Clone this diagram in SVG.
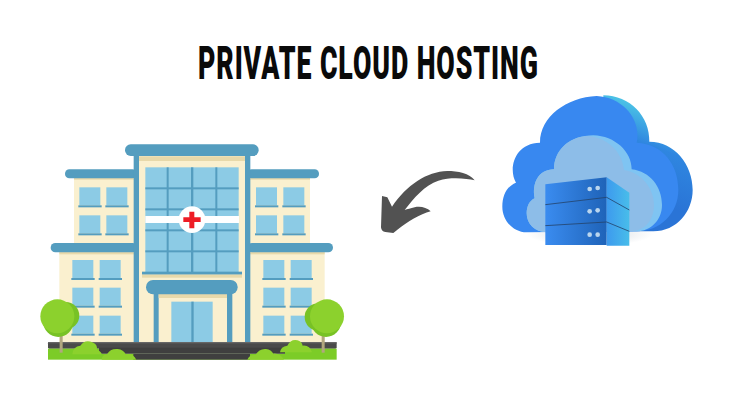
<svg xmlns="http://www.w3.org/2000/svg" width="736" height="400" viewBox="0 0 736 400">
<style>
.b{fill:#549dbf}.w{fill:#8ccbe5}.c{fill:#faf0cf}.s{fill:#e8d9aa}.g{fill:#8cd12d}.g2{fill:#78c225}.t{fill:#b1a77e}
.title{font-family:Roboto,"Liberation Sans",sans-serif;font-weight:900;font-size:46px;fill:#0a0a0a}
</style>
<defs>
<g id="win"><rect class="w" x="0" y="0" width="63" height="54"/><rect class="b" x="-3" y="54" width="70" height="6"/></g>
<linearGradient id="sv1" x1="0" x2="1" y1="0" y2="0"><stop offset="0" stop-color="#3a8cf0"/><stop offset="1" stop-color="#1f63b8"/></linearGradient>
<linearGradient id="sv2" x1="0" x2="1" y1="0" y2="0"><stop offset="0" stop-color="#3d9aee"/><stop offset="1" stop-color="#48bdea"/></linearGradient>
<linearGradient id="cl" gradientUnits="userSpaceOnUse" x1="760" y1="300" x2="850" y2="60"><stop offset="0" stop-color="#2a74d6"/><stop offset=".6" stop-color="#2f86e0"/><stop offset="1" stop-color="#4cc4e6"/></linearGradient>
<radialGradient id="sh"><stop offset="0" stop-color="#9aa9b5" stop-opacity=".45"/><stop offset="1" stop-color="#9aa9b5" stop-opacity="0"/></radialGradient>
</defs>
<g transform="translate(198,79) scale(.58,1)"><text class="title" id="title" x="0" y="0" textLength="586" lengthAdjust="spacing">PRIVATE CLOUD HOSTING</text></g>

<g id="hospital" transform="translate(40,135) scale(.33333)">
<rect class="c" x="102" y="125" width="180" height="200"/>
<rect class="c" x="630" y="125" width="180" height="200"/>
<rect class="c" x="58" y="345" width="225" height="280"/>
<rect class="c" x="630" y="345" width="224" height="280"/>
<rect class="s" x="102" y="128" width="180" height="6"/><rect class="s" x="630" y="128" width="180" height="6"/>
<rect class="s" x="58" y="350" width="225" height="8"/><rect class="s" x="630" y="350" width="224" height="8"/>
<rect class="b" x="75" y="103" width="215" height="27" rx="13"/>
<rect class="b" x="622" y="103" width="215" height="27" rx="13"/>
<rect class="b" x="32" y="324" width="260" height="28" rx="14"/>
<rect class="b" x="622" y="324" width="257" height="28" rx="14"/>
<use href="#win" x="118" y="157"/><use href="#win" x="199" y="157"/><use href="#win" x="118" y="241"/><use href="#win" x="199" y="241"/>
<use href="#win" x="648" y="157"/><use href="#win" x="730" y="157"/><use href="#win" x="648" y="241"/><use href="#win" x="730" y="241"/>
<use href="#win" x="97" y="375"/><use href="#win" x="179" y="375"/><use href="#win" x="97" y="458"/><use href="#win" x="179" y="458"/><use href="#win" x="97" y="542"/><use href="#win" x="179" y="542"/>
<use href="#win" x="670" y="375"/><use href="#win" x="752" y="375"/><use href="#win" x="670" y="458"/><use href="#win" x="752" y="458"/><use href="#win" x="670" y="542"/><use href="#win" x="752" y="542"/>
<rect class="c" x="290" y="60" width="332" height="565"/>
<rect class="s" x="297" y="64" width="318" height="14"/>
<rect class="b" x="281" y="50" width="16" height="575"/><rect class="b" x="615" y="50" width="16" height="575"/>
<rect class="b" x="255" y="28" width="401" height="35" rx="17"/>
<rect class="w" x="316" y="97" width="280" height="314"/>
<g class="b"><rect x="380" y="97" width="6" height="314"/><rect x="453" y="97" width="7" height="314"/><rect x="526" y="97" width="6" height="314"/>
<rect x="316" y="157" width="280" height="6"/><rect x="316" y="220" width="280" height="6"/><rect x="316" y="283" width="280" height="6"/><rect x="316" y="346" width="280" height="6"/>
<rect x="306" y="410" width="300" height="9"/></g>
<rect class="s" x="306" y="419" width="300" height="9"/>
<rect x="316" y="243" width="281" height="21" fill="#fff"/>
<circle cx="456" cy="254" r="40" fill="#fff"/>
<path d="M448 230h15v17h19v14h-19v19h-15v-19h-18v-14h18z" fill="#ee1c25"/>
<rect class="b" x="341" y="470" width="15" height="155"/><rect class="b" x="561" y="470" width="16" height="155"/>
<rect class="s" x="356" y="477" width="205" height="12"/>
<rect class="b" x="318" y="435" width="275" height="43" rx="21"/>
<rect class="w" x="394" y="500" width="124" height="125"/><rect class="b" x="454" y="500" width="7" height="125"/>
<rect x="24" y="621" width="866" height="20" rx="4" fill="#4a4a4a"/>
<rect x="24" y="641" width="866" height="33" fill="#7ccc27"/>
<rect x="24" y="621" width="866" height="4" fill="#666"/>
<rect x="177" y="638" width="558" height="18" fill="#3f3f3f"/>
<rect x="280" y="656" width="350" height="18" fill="#3f3f3f"/>
<rect x="177" y="654" width="558" height="2" fill="#6a6a6a"/>
<rect class="t" x="59" y="590" width="9" height="63"/><rect class="t" x="845" y="590" width="9" height="63"/>
<circle class="g2" cx="77" cy="542" r="41"/><circle class="g2" cx="55" cy="561" r="45"/><circle class="g" cx="52" cy="544" r="51"/>
<circle class="g2" cx="835" cy="546" r="41"/><circle class="g2" cx="858" cy="561" r="45"/><circle class="g" cx="861" cy="544" r="51"/>
<path class="g" d="M97 658q2-24 24-26q14-20 36-10q16 6 14 22q14 6 14 14z"/>
<path class="g" d="M185 674q0-14 16-16q10-18 32-16q18 2 24 16q22-4 32 16z"/>
<path class="g" d="M622 674q6-16 24-14q12-20 32-18q16 2 22 14q20-2 32 18z"/>
<path class="g" d="M720 652q2-18 22-20q10-20 30-16q14 4 16 16q22-2 28 20z"/>
</g>

<g id="arrow" transform="translate(370,90) scale(.33333)">
<path d="M314 271C300 250 262 243 232 243C170 245 110 285 66 350L52 322L36 318L33 412Q34 424 46 426L70 429L84 418C112 396 150 372 182 364C170 352 150 348 134 352C122 355 112 358 104 360C130 325 165 285 205 272C245 260 290 266 314 271Z" fill="#525252"/>
</g>

<g id="cloud" transform="translate(370,90) scale(.33333)">
<ellipse cx="660" cy="432" rx="190" ry="36" fill="url(#sh)"/>
<path d="M700 16C780 16 840 80 838 155C915 155 968 225 968 300C968 365 920 424 850 424L700 424V16Z" fill="url(#cl)"/>
<path d="M680 18C590 22 510 80 510 158C430 160 415 240 438 278C412 288 397 315 397 350C397 392 430 427 470 427L800 424C870 424 925 370 925 300C925 225 880 162 800 158C815 90 760 22 680 18Z" fill="#3888f0"/>
<path d="M670 136C600 136 552 180 552 238C505 238 485 280 494 325C478 332 470 350 470 370C470 402 495 427 530 427L800 424C842 424 876 390 876 345C876 290 840 245 785 238C785 185 735 138 670 136Z" fill="#7fc4f2"/>
<path d="M650 138C595 142 552 182 552 238C505 238 485 280 494 325C478 332 470 350 470 370C470 402 495 427 530 427L780 424C825 424 852 390 852 345C852 295 815 248 762 240C758 185 710 140 650 138Z" fill="#8dbde8"/>
<path d="M526 283L710 262V465H526Z" fill="url(#sv1)"/>
<path d="M710 262L778 308V467H710Z" fill="url(#sv2)"/>
<path d="M526 344L710 322L778 360M526 407L710 396L778 424" fill="none" stroke="#24456e" stroke-width="2.5"/>
<g fill="#b9d5ee"><circle cx="659" cy="297" r="7"/><circle cx="683" cy="294" r="7"/><circle cx="659" cy="364" r="7"/><circle cx="683" cy="361" r="7"/><circle cx="659" cy="434" r="7"/><circle cx="683" cy="434" r="7"/></g>
</g>
</svg>
